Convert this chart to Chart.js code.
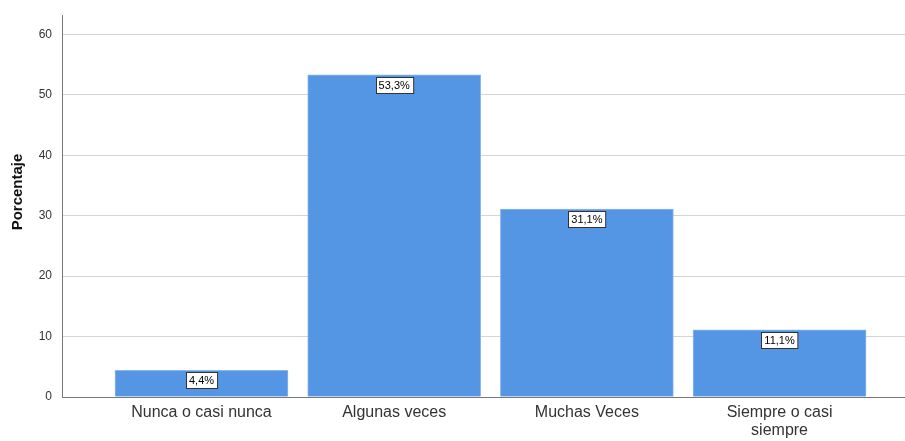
<!DOCTYPE html>
<html>
<head>
<meta charset="utf-8">
<script src="https://cdn.jsdelivr.net/npm/chart.js@4.4.1/dist/chart.umd.min.js"></script>
<style>
  html, body { margin: 0; padding: 0; background: #fff; }
  #wrap { width: 905px; height: 441px; position: relative; }
</style>
</head>
<body>
<div id="wrap"><canvas id="grafico"></canvas></div>
<script>
// datos
const categorias = ['Nunca o casi nunca', 'Algunas veces', 'Muchas Veces', ['Siempre o casi', 'siempre']];
const porcentajes = [4.4, 53.3, 31.1, 11.1];
const ticksY = [0, 10, 20, 30, 40, 50, 60];

// etiqueta con caja blanca arriba de cada barra
const etiquetas = {
    id: 'etiquetas',
    afterDatasetsDraw(chart) {
        const ctx = chart.ctx;
        const meta = chart.getDatasetMeta(0);
        ctx.save();
        ctx.font = '11px "Liberation Sans", Arial, sans-serif';
        ctx.textAlign = 'center';
        ctx.textBaseline = 'middle';
        meta.data.forEach((bar, i) => {
            const txt = porcentajes[i].toFixed(1).replace('.', ',') + '%';
            const w = ctx.measureText(txt).width + 6;
            const h = 16;
            const x = Math.round(bar.x - w / 2) + 0.5;
            const y = Math.round(bar.y + 2) + 0.5;
            ctx.fillStyle = '#fff';
            ctx.fillRect(x, y, w, h);
            ctx.strokeStyle = '#333';
            ctx.lineWidth = 1;
            ctx.strokeRect(x, y, w, h);
            ctx.fillStyle = '#000';
            ctx.fillText(txt, bar.x, y + h / 2 + 0.5);
        });
        ctx.restore();
    }
};

// título del eje Y
const tituloY = {
    id: 'tituloY',
    afterDraw(chart) {
        const ctx = chart.ctx;
        ctx.save();
        ctx.translate(18, 192);
        ctx.rotate(-Math.PI / 2);
        ctx.font = 'bold 15px "Liberation Sans", Arial, sans-serif';
        ctx.fillStyle = '#111';
        ctx.textAlign = 'center';
        ctx.textBaseline = 'middle';
        ctx.fillText('Porcentaje', 0, 0);
        ctx.restore();
    }
};

const ctx = document.getElementById('grafico').getContext('2d');
new Chart(ctx, {
    type: 'bar',
    data: {
        datasets: [{
            data: porcentajes.map((v, i) => ({ x: i + 1, y: v })),
            backgroundColor: '#5596e4',
            borderColor: '#8db6ee',
            borderWidth: 1,
            barThickness: 173
        }]
    },
    options: {
        responsive: true,
        maintainAspectRatio: false,
        animation: false,
        layout: { padding: { left: 0, right: 0, top: 15, bottom: 0 } },
        plugins: { legend: { display: false }, tooltip: { enabled: false } },
        scales: {
            x: {
                type: 'linear',
                offset: false,
                min: 0.276,
                max: 4.651,
                afterBuildTicks: (scale) => { scale.ticks = categorias.map((c, i) => ({ value: i + 1 })); },
                afterFit: (scale) => { scale.height = 44; scale.paddingLeft = 0; scale.paddingRight = 0; },
                grid: { display: false, drawTicks: false },
                border: { color: '#777', width: 1 },
                ticks: {
                    autoSkip: false,
                    maxRotation: 0,
                    padding: 7,
                    color: '#333',
                    font: { family: '"Liberation Sans", Arial, sans-serif', size: 16, lineHeight: 1.1 },
                    callback: (v) => categorias[Math.round(v) - 1]
                }
            },
            y: {
                min: 0,
                max: 63.2,
                afterBuildTicks: (scale) => { scale.ticks = ticksY.map(v => ({ value: v })); },
                grid: { color: '#d4d4d4', drawTicks: false },
                border: { color: '#777', width: 1 },
                afterFit: (scale) => { scale.width = 62; scale.paddingTop = 0; scale.paddingBottom = 0; },
                ticks: {
                    padding: 10,
                    color: '#333',
                    font: { family: '"Liberation Sans", Arial, sans-serif', size: 12 }
                }
            }
        }
    },
    plugins: [etiquetas, tituloY]
});
</script>
</body>
</html>
